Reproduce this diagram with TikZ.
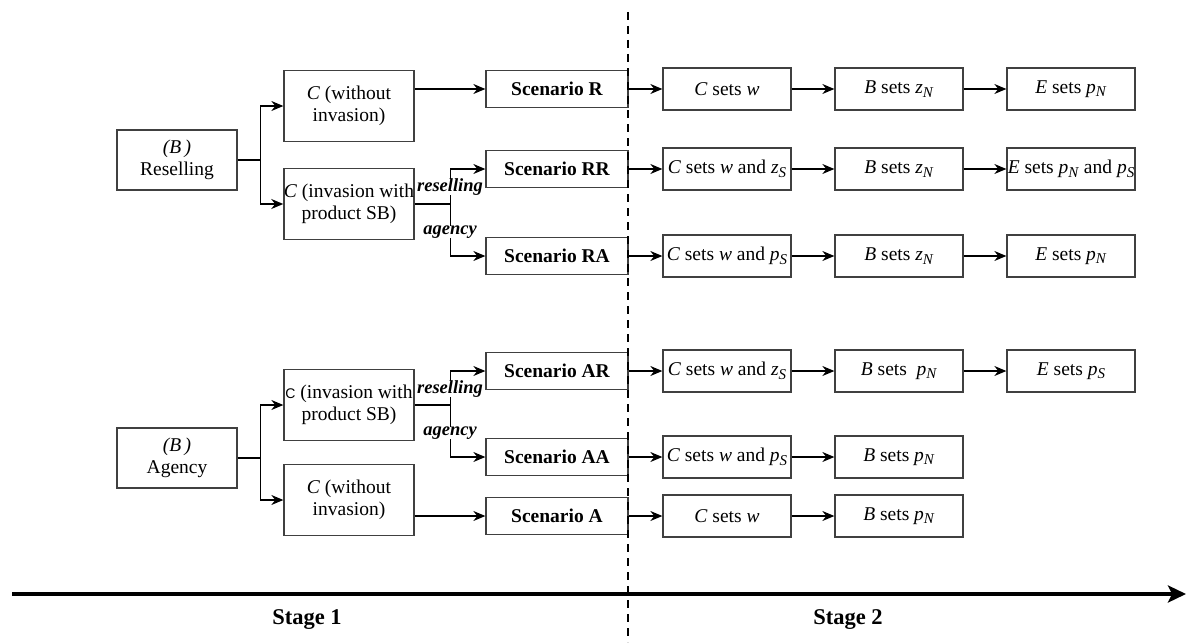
\documentclass[tikz,border=0pt]{standalone}
\usepackage{fontspec}
\setmainfont{Liberation Serif}
\setsansfont{Liberation Sans}
\usetikzlibrary{arrows.meta}
\newcommand{\ssub}[1]{\raisebox{-0.4ex}{\fontsize{15}{15}\selectfont\textit{#1}}}
\begin{document}
\begin{tikzpicture}[x=1pt,y=-1pt,
  every node/.style={font=\fontsize{19.5}{22}\selectfont},
  box/.style={draw=black!75,line width=1.3pt,align=center,inner sep=0pt},
  lbox/.style={box,minimum width=120pt,minimum height=60pt},
  cbox/.style={box,minimum width=130pt,minimum height=71pt},
  sbox/.style={box,minimum width=142pt,minimum height=37pt,font=\fontsize{19.5}{22}\selectfont\bfseries},
  tbox/.style={box,minimum width=128pt,minimum height=42pt},
  arr/.style={line width=1.3pt,-{Stealth[length=12pt,width=10pt]}},
  ln/.style={line width=1.3pt},
  lab/.style={fill=white,inner sep=0pt,font=\fontsize{18.5}{21}\selectfont\bfseries\itshape}]
\useasboundingbox (0,0) rectangle (1193,642);
% stage 1 left boxes
\node[lbox] (bres) at (177,160) {\textit{(B\,)}\\Reselling};
\node[cbox] (cwo1) at (349,106) {\textit{C} (without\\invasion)};
\node[cbox] (cin1) at (349,204) {\textit{C} (invasion with\\product SB)};
\node[lbox] (bag) at (177,458) {\textit{(B\,)}\\Agency};
\node[cbox] (cin2) at (349,405) {{\sffamily\fontsize{14}{14}\selectfont C} (invasion with\\product SB)};
\node[cbox] (cwo2) at (349,500) {\textit{C} (without\\invasion)};
% scenarios
\node[sbox] (sR) at (557,89) {Scenario R};
\node[sbox] (sRR) at (557,169) {Scenario RR};
\node[sbox] (sRA) at (557,256) {Scenario RA};
\node[sbox] (sAR) at (557,371) {Scenario AR};
\node[sbox] (sAA) at (557,457) {Scenario AA};
\node[sbox] (sA) at (557,516) {Scenario A};
% stage 2 boxes
\node[tbox] (c1) at (727,89) {\textit{C} sets \textit{w}};
\node[tbox] (b1) at (899,89) {\textit{B} sets \textit{z}\ssub{N}};
\node[tbox] (e1) at (1071,89) {\textit{E} sets \textit{p}\ssub{N}};
\node[tbox] (c2) at (727,169) {\textit{C} sets \textit{w} and \textit{z}\ssub{S}};
\node[tbox] (b2) at (899,169) {\textit{B} sets \textit{z}\ssub{N}};
\node[tbox] (e2) at (1071,169) {\textit{E} sets \textit{p}\ssub{N} and \textit{p}\ssub{S}};
\node[tbox] (c3) at (727,256) {\textit{C} sets \textit{w} and \textit{p}\ssub{S}};
\node[tbox] (b3) at (899,256) {\textit{B} sets \textit{z}\ssub{N}};
\node[tbox] (e3) at (1071,256) {\textit{E} sets \textit{p}\ssub{N}};
\node[tbox] (c4) at (727,371) {\textit{C} sets \textit{w} and \textit{z}\ssub{S}};
\node[tbox] (b4) at (899,371) {\textit{B} sets~ \textit{p}\ssub{N}};
\node[tbox] (e4) at (1071,371) {\textit{E} sets \textit{p}\ssub{S}};
\node[tbox] (c5) at (727,457) {\textit{C} sets \textit{w} and \textit{p}\ssub{S}};
\node[tbox] (b5) at (899,457) {\textit{B} sets \textit{p}\ssub{N}};
\node[tbox] (c6) at (727,516) {\textit{C} sets \textit{w}};
\node[tbox] (b6) at (899,516) {\textit{B} sets \textit{p}\ssub{N}};
% branches stage 1
\draw[arr] (bres.east) -- ++(23,0) |- (cwo1.west);
\draw[arr] (bres.east) -- ++(23,0) |- (cin1.west);
\draw[arr] (bag.east) -- ++(23,0) |- (cin2.west);
\draw[arr] (bag.east) -- ++(23,0) |- (cwo2.west);
\draw[arr] (sR.west -| cwo1.east) -- (sR.west);
\draw[arr] (sA.west -| cwo2.east) -- (sA.west);
\draw[ln] (cin1.east) -- ++(36,0) coordinate (k1);
\draw[arr] (k1) |- (sRR.west);
\draw[arr] (k1) |- (sRA.west);
\draw[ln] (cin2.east) -- ++(36,0) coordinate (k2);
\draw[arr] (k2) |- (sAR.west);
\draw[arr] (k2) |- (sAA.west);
\node[lab] (lr1) at (450,187) {reselling};
\node[lab] (la1) at (450,232) {agency};
\node[lab] (lr2) at (450,389) {reselling};
\node[lab] (la2) at (450,433) {agency};
% stage 2 arrows
\foreach \s/\c/\b in {sR/c1/b1,sRR/c2/b2,sRA/c3/b3,sAR/c4/b4,sAA/c5/b5,sA/c6/b6}{
  \draw[arr] (\s.east) -- (\c.west);
  \draw[arr] (\c.east) -- (\b.west);
}
\foreach \b/\e in {b1/e1,b2/e2,b3/e3,b4/e4}{
  \draw[arr] (\b.east) -- (\e.west);
}
% dashed separator
\coordinate (dtop) at (628,12);
\coordinate (dbot) at (628,642);
\draw[line width=2pt,dash pattern=on 8pt off 6pt] (dtop) -- (dbot);
% time axis
\coordinate (ax1) at (12,594);
\coordinate (ax2) at (1186,594);
\draw[line width=3.8pt,-{Stealth[length=18pt,width=17pt,inset=4pt]}] (ax1) -- (ax2);
\node[font=\fontsize{22.5}{25}\selectfont\bfseries] (st1) at (307,620) {Stage 1};
\node[font=\fontsize{22.5}{25}\selectfont\bfseries] (st2) at (848,620) {Stage 2};
\end{tikzpicture}
\end{document}
